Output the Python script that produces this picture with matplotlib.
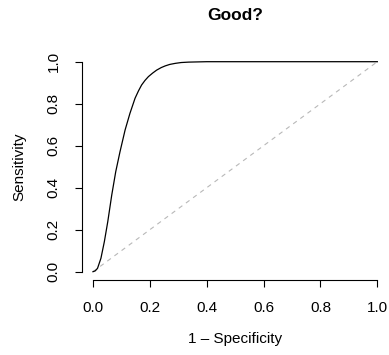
import matplotlib
matplotlib.use("Agg")
import matplotlib.pyplot as plt

# ROC curve points
fpr = [0.0, 0.008, 0.016, 0.028, 0.040, 0.052, 0.066, 0.080, 0.095, 0.113,
       0.130, 0.148, 0.160, 0.171, 0.183, 0.195, 0.210, 0.224, 0.240, 0.254,
       0.270, 0.289, 0.310, 0.336, 0.40, 0.50, 1.0]
tpr = [0.0, 0.004, 0.016, 0.064, 0.143, 0.238, 0.365, 0.476, 0.571, 0.675,
       0.754, 0.826, 0.861, 0.889, 0.911, 0.929, 0.946, 0.960, 0.972, 0.980,
       0.987, 0.992, 0.996, 0.998, 1.0, 1.0, 1.0]
chance = [0.0, 1.0]
ticks = [0.0, 0.2, 0.4, 0.6, 0.8, 1.0]
tick_labels = ["0.0", "0.2", "0.4", "0.6", "0.8", "1.0"]

plt.rcParams['font.family'] = ['Liberation Sans', 'DejaVu Sans']

W, H = 389, 355
fig = plt.figure(figsize=(W / 100, H / 100), dpi=100)
# plot region in pixels: x 81.6..388.7, y 53.3..280.1 (from top)
ax = fig.add_axes([81.6 / W, 1 - 280.1 / H, (388.7 - 81.6) / W, (280.1 - 53.3) / H])

ax.plot(chance, chance, color="#b8b8b8", lw=0.8, linestyle=(0, (4, 4)))
ax.plot(fpr, tpr, color="black", lw=0.9)

ax.set_xlim(-0.04, 1.04)
ax.set_ylim(-0.04, 1.04)

for side in ["top", "right"]:
    ax.spines[side].set_visible(False)
for side in ["left", "bottom"]:
    ax.spines[side].set_bounds(0, 1)
    ax.spines[side].set_linewidth(0.8)

ax.set_xticks(ticks)
ax.set_xticklabels(tick_labels)
ax.set_yticks(ticks)
ax.set_yticklabels(tick_labels, rotation=90, va="center")
ax.tick_params(axis="both", length=5.2, width=0.8, labelsize=11, pad=10)

ax.set_xlabel("1 \u2013 Specificity", fontsize=11, va="center")
ax.xaxis.set_label_coords(0.5, (280.1 - 339.5) / (280.1 - 53.3))
ax.set_ylabel("Sensitivity", fontsize=11, va="center")
ax.yaxis.set_label_coords((19.5 - 81.6) / (388.7 - 81.6), 0.5)
ax.set_title("Good?", fontsize=12.5, fontweight="bold", va="center", pad=0,
             y=(280.1 - 16) / (280.1 - 53.3))

fig.savefig("out.png", dpi=100)
